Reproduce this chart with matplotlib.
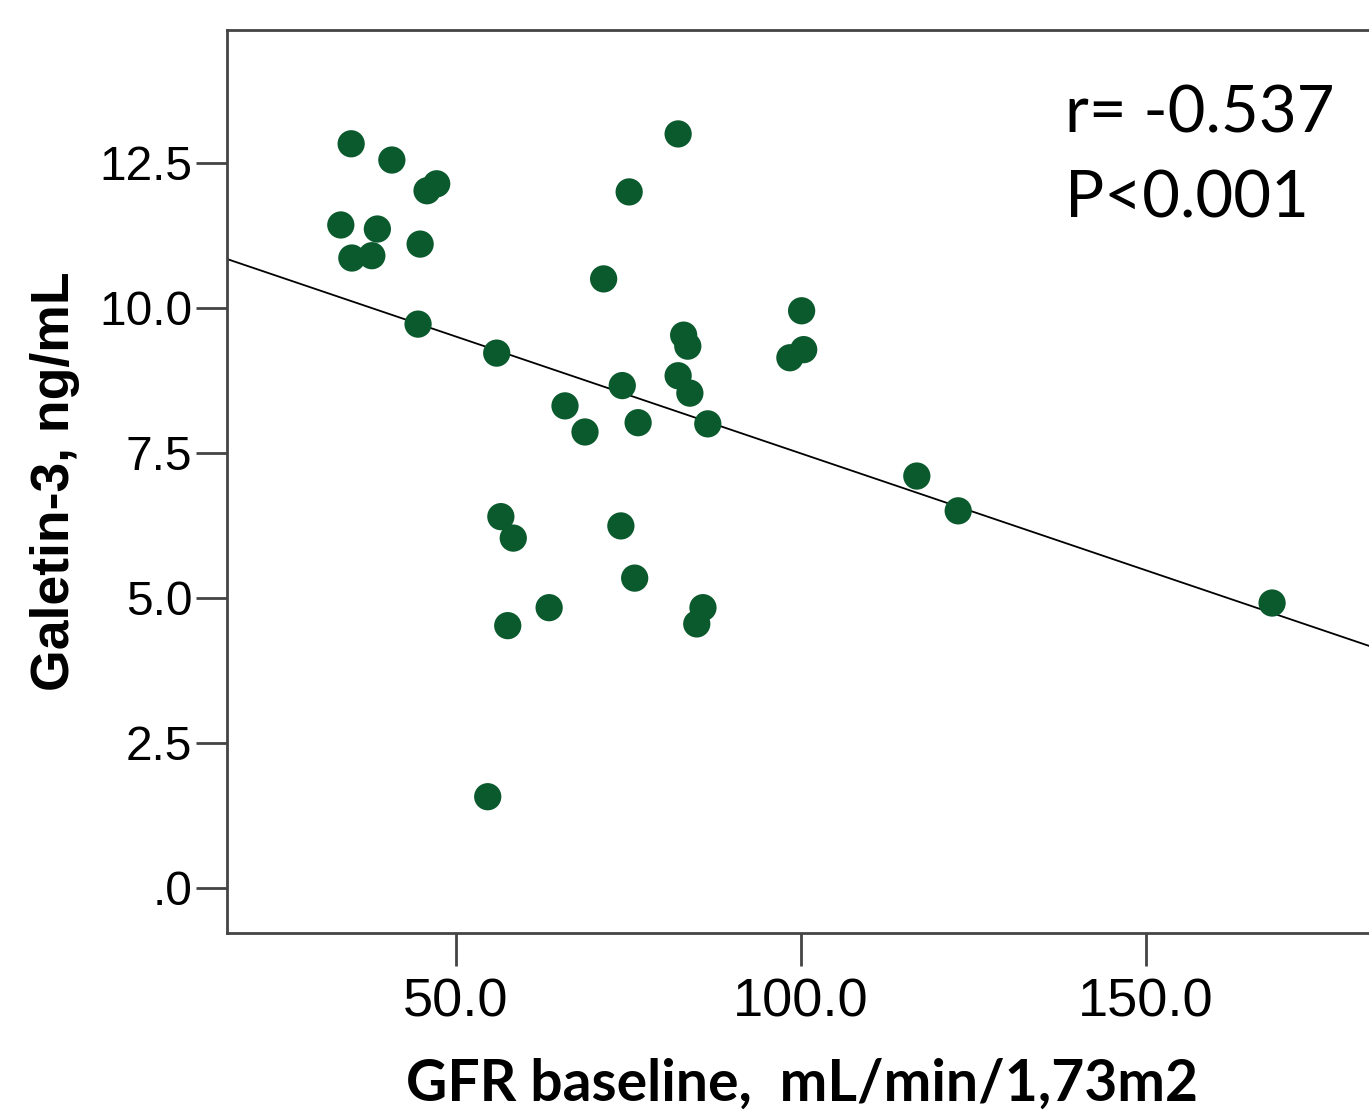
import numpy as np
from matplotlib import pyplot as plt

# GFR baseline (mL/min/1,73m2) vs galectin-3 (ng/mL)
gfr = [34.8, 40.7, 33.3, 34.9, 37.8, 38.6, 44.8, 45.8, 47.2, 44.5,
       55.9, 54.6, 56.5, 58.3, 57.5, 63.5, 65.8, 68.7, 71.4, 75.1,
       82.2, 74.1, 76.4, 73.9, 75.9, 83.0, 83.6, 82.2, 83.9, 86.5,
       85.8, 84.9, 98.4, 100.1, 100.4, 116.8, 122.8, 168.3]
gal3 = [12.83, 12.55, 11.43, 10.86, 10.90, 11.36, 11.10, 12.02, 12.14, 9.72,
        9.22, 1.57, 6.40, 6.03, 4.52, 4.83, 8.31, 7.86, 10.50, 12.00,
        13.00, 8.66, 8.02, 6.24, 5.34, 9.53, 9.34, 8.83, 8.53, 8.00,
        4.83, 4.55, 9.14, 9.95, 9.28, 7.10, 6.50, 4.91]

# fit line as drawn in the figure
fit_intercept = 11.52
fit_slope = -0.0403

x_ticks = [50.0, 100.0, 150.0]
x_ticklabels = ['50.0', '100.0', '150.0']
y_ticks = [0.0, 2.5, 5.0, 7.5, 10.0, 12.5]
y_ticklabels = ['.0', '2.5', '5.0', '7.5', '10.0', '12.5']

fig = plt.figure(figsize=(13.69, 11.16), dpi=100)
ax = fig.add_axes([0.1658, 0.164, 0.8400, 0.809])

ax.scatter(gfr, gal3, s=385, color='#0b5a2e', edgecolors='none', zorder=3)

xlim = (16.8, 183.5)
xs = np.array(xlim)
ax.plot(xs, fit_intercept + fit_slope * xs, color='black', linewidth=1.3, zorder=2)

ax.set_xlim(*xlim)
ax.set_ylim(-0.78, 14.79)

ax.set_xticks(x_ticks)
ax.set_xticklabels(x_ticklabels, family='Liberation Sans', fontsize=39)
ax.set_yticks(y_ticks)
ax.set_yticklabels(y_ticklabels, family='Liberation Sans', fontsize=34.5)
ax.tick_params(axis='x', direction='out', length=24, width=2, color='#444444', pad=8)
ax.tick_params(axis='y', direction='out', length=22, width=2, color='#444444', pad=3)

for sp in ax.spines.values():
    sp.set_linewidth(2)
    sp.set_color('#444444')

ax.set_xlabel('GFR baseline,  mL/min/1,73m2', family='Lato', fontweight='bold',
              fontsize=41, labelpad=22)
ax.set_ylabel('Galetin-3, ng/mL', family='Liberation Sans', fontweight='bold',
              fontsize=38.5, labelpad=14)

ax.text(0.729, 0.94, 'r= -0.537\nP<0.001', transform=ax.transAxes, family='Lato',
        fontsize=47, va='top', ha='left', linespacing=1.55)

fig.savefig('out.png', dpi=100)
